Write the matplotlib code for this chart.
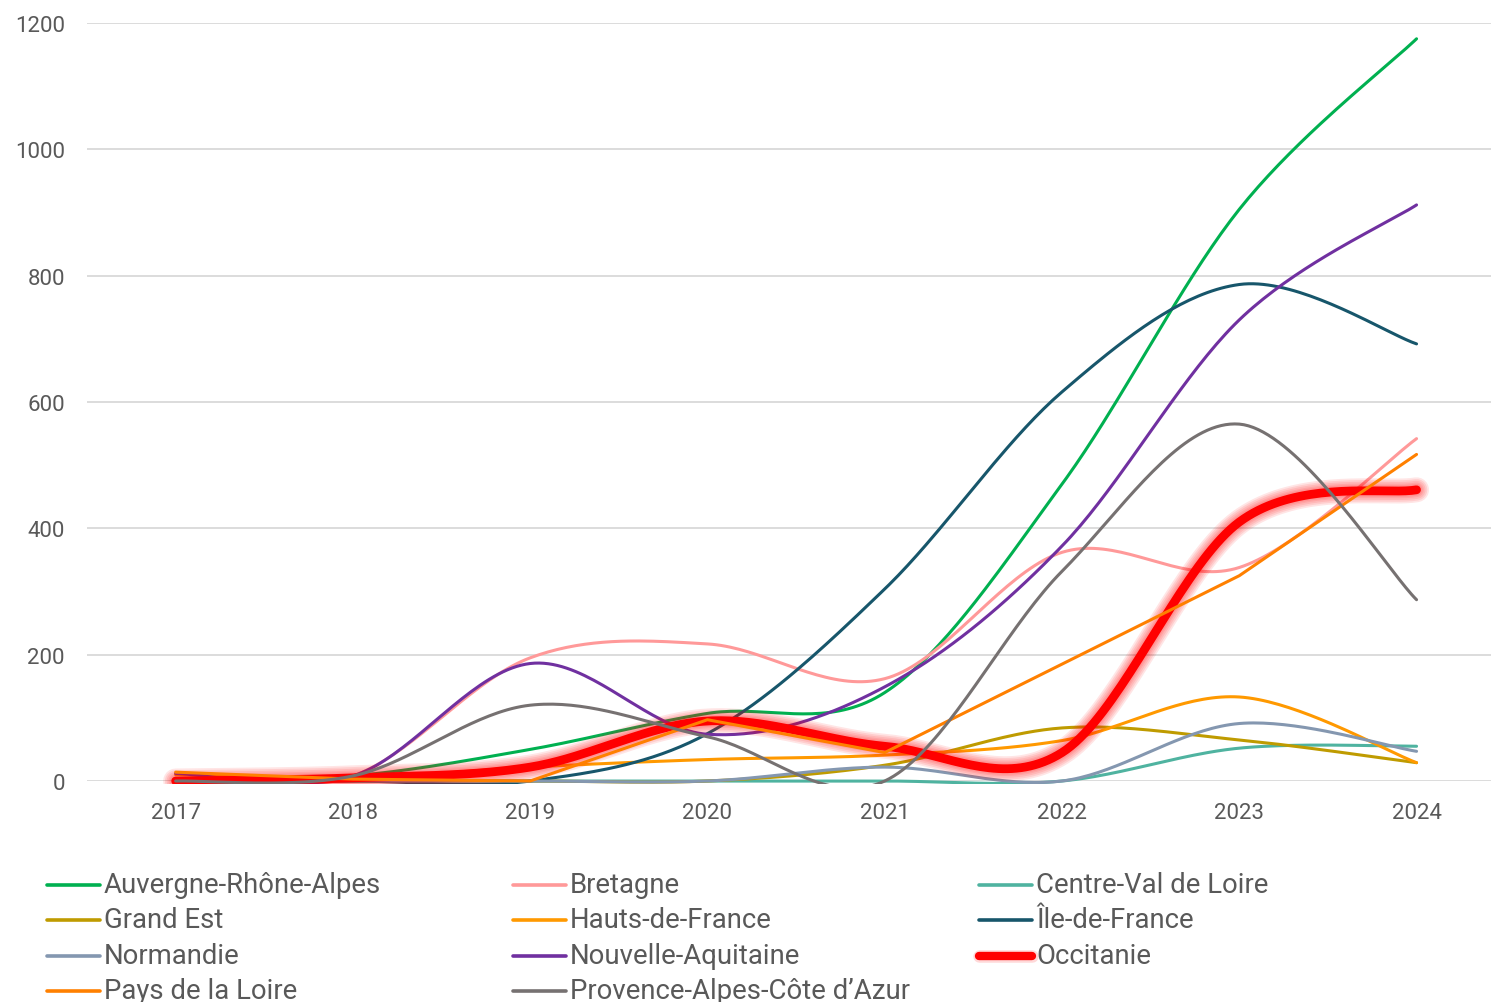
import numpy as np
import matplotlib
matplotlib.use("Agg")
import matplotlib.pyplot as plt
from matplotlib.lines import Line2D
from matplotlib.patches import Rectangle

plt.rcParams["font.family"] = ["Roboto", "DejaVu Sans"]

years = [2017, 2018, 2019, 2020, 2021, 2022, 2023, 2024]

auvergne = [0, 8, 50, 107, 140, 470, 905, 1175]
bretagne = [0, 8, 195, 217, 162, 362, 338, 542]
centre = [0, 0, 0, 0, 0, 0, 52, 55]
grand_est = [0, 0, 0, 0, 25, 84, 65, 29]
hauts = [10, 5, 22, 34, 41, 64, 133, 29]
idf = [0, 0, 0, 75, 304, 616, 786, 692]
normandie = [0, 0, 0, 0, 22, 0, 91, 47]
nouvelle = [12, 8, 186, 74, 149, 372, 730, 912]
occitanie = [0, 5, 22, 95, 55, 45, 410, 461]
pays = [14, 3, 0, 97, 45, 185, 325, 517]
paca = [0, 8, 120, 70, 0, 332, 565, 287]

series = [
    ("Auvergne-Rhône-Alpes", auvergne, "#00B050", True),
    ("Bretagne", bretagne, "#FF9999", True),
    ("Centre-Val de Loire", centre, "#4FB3A0", True),
    ("Grand Est", grand_est, "#BF9B00", True),
    ("Hauts-de-France", hauts, "#FF9900", True),
    ("Île-de-France", idf, "#17566B", True),
    ("Normandie", normandie, "#8497B0", True),
    ("Nouvelle-Aquitaine", nouvelle, "#7030A0", True),
    ("Occitanie", occitanie, "#FF0000", True),
    ("Pays de la Loire", pays, "#FF8000", False),
    ("Provence-Alpes-Côte d’Azur", paca, "#767171", True),
]

TEXT = "#595959"


def smooth(x, y, steps=40):
    # bezier through the points, tangents like Excel's smoothed lines
    x = np.asarray(x, float)
    y = np.asarray(y, float)
    n = len(x)
    xs, ys = [x[0]], [y[0]]
    t = np.linspace(0, 1, steps)[1:]
    for i in range(n - 1):
        i0 = max(i - 1, 0)
        i3 = min(i + 2, n - 1)
        for arr, out in ((x, xs), (y, ys)):
            p0, p1, p2, p3 = arr[i0], arr[i], arr[i + 1], arr[i3]
            c1 = p1 + (p2 - p0) / 6
            c2 = p2 - (p3 - p1) / 6
            seg = ((1 - t) ** 3 * p1 + 3 * (1 - t) ** 2 * t * c1
                   + 3 * (1 - t) * t ** 2 * c2 + t ** 3 * p2)
            out.extend(seg)
    return np.array(xs), np.array(ys)


fig = plt.figure(figsize=(14.91, 10.03), dpi=100)
ax = fig.add_axes([87 / 1491, 221 / 1003, 1 - 87 / 1491, 758 / 1003])

clip = Rectangle((0, -0.004), 1, 1.02, transform=ax.transAxes, visible=False)
ax.add_patch(clip)

for name, vals, color, is_smooth in series:
    if is_smooth:
        xs, ys = smooth(years, vals)
    else:
        xs, ys = np.array(years, float), np.array(vals, float)
    if name == "Occitanie":
        for lw in (18, 15.5, 13, 10.5, 8.5):
            glow, = ax.plot(xs, ys, color="#FF0000", lw=lw, alpha=0.1,
                            solid_capstyle="round", solid_joinstyle="round")
            glow.set_clip_path(clip)
        line, = ax.plot(xs, ys, color=color, lw=6.3,
                        solid_capstyle="round", solid_joinstyle="round")
    else:
        line, = ax.plot(xs, ys, color=color, lw=2.2,
                        solid_capstyle="round", solid_joinstyle="round")
    line.set_clip_path(clip)

ax.set_xlim(2016.5, 2024.42)
ax.set_ylim(0, 1200)
ax.set_yticks(range(0, 1201, 200))
ax.set_xticks(years)
ax.set_xticklabels([str(y) for y in years])
ax.grid(axis="y", color="#D9D9D9", lw=1.3)
ax.set_axisbelow(True)
for side in ax.spines.values():
    side.set_visible(False)
ax.tick_params(axis="both", length=0, labelsize=16, labelcolor=TEXT)
ax.tick_params(axis="x", pad=15)
ax.tick_params(axis="y", pad=16)

# legend, three columns laid out like the original
col_x = [47, 513, 979]
row_y = [886, 921, 957, 992]
for k, (name, vals, color, _) in enumerate(series):
    r, c = divmod(k, 3)
    x0 = col_x[c]
    fy = 1 - row_y[r] / 1003
    hx = [x0 / 1491, (x0 + 53) / 1491]
    if name == "Occitanie":
        fig.add_artist(Line2D(hx, [fy, fy], transform=fig.transFigure,
                              color="#FF0000", lw=9, alpha=0.15,
                              solid_capstyle="round"))
        fig.add_artist(Line2D(hx, [fy, fy], transform=fig.transFigure,
                              color=color, lw=6, solid_capstyle="round"))
    else:
        fig.add_artist(Line2D(hx, [fy, fy], transform=fig.transFigure,
                              color=color, lw=2.6, solid_capstyle="round"))
    fig.text((x0 + 57) / 1491, fy, name, color=TEXT, fontsize=19.8,
             ha="left", va="center")

fig.savefig("out.png", dpi=100)
